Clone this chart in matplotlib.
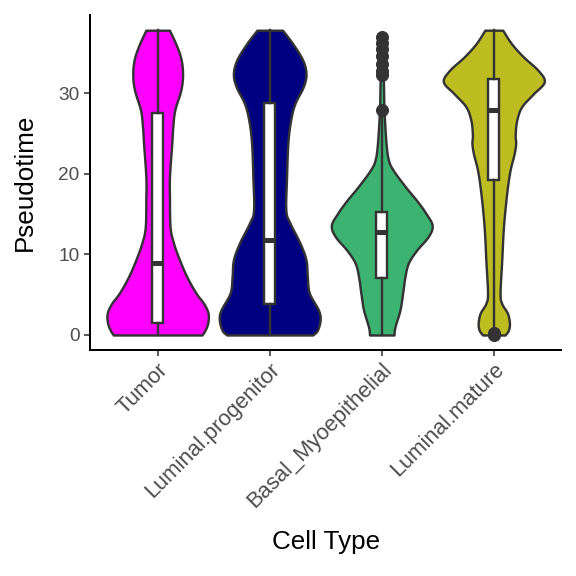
import numpy as np
import matplotlib
matplotlib.use('Agg')
import matplotlib.pyplot as plt

plt.rcParams['font.family'] = ['Liberation Sans', 'DejaVu Sans']

cell_types = ['Tumor', 'Luminal.progenitor', 'Basal_Myoepithelial', 'Luminal.mature']
colors = ['#FF00FF', '#000080', '#3CB371', '#BDBD22']

# violin outlines: pseudotime grid and relative density
tumor_y = [0, 0.6, 1.5, 2.7, 3.9, 5.2, 7.2, 9.3, 11.4, 13.4, 17.1, 19.6, 23.8, 25.8, 27.9, 30.4, 32.4, 34.3, 36.1, 37.8]
tumor_d = [44, 47, 49.7, 50, 45.7, 38, 29, 21.7, 15.7, 12.3, 11.7, 11.7, 14, 15, 17, 23, 24.7, 23, 18, 11.7]

lp_y = [0, 0.6, 1.9, 3.1, 5.2, 7.2, 9.3, 11.4, 13.9, 15.5, 19.6, 23.8, 26.6, 28.7, 30.8, 32.4, 34.1, 36.1, 37.8]
lp_d = [42.7, 47.3, 50, 48.3, 39.3, 37.3, 36, 30, 20, 16, 16.7, 18, 20.7, 25, 33.3, 36, 32.7, 23, 12.7]

basal_y = [0, 1.0, 3.1, 5.2, 7.2, 8.9, 10.5, 12.2, 13.6, 15.1, 16.7, 18.3, 20.4, 21.7, 23.8, 27.9, 31.2, 34.0, 37.0]
basal_d = [12.3, 13.3, 18.3, 21, 23.3, 26.7, 35, 46.7, 50.7, 44.3, 35, 24.3, 11.7, 6.7, 4.3, 2.3, 1.7, 1.0, 0.5]

lm_y = [0, 0.6, 1.5, 2.7, 3.9, 5.2, 9.3, 13.4, 17.6, 20.4, 22.5, 23.8, 24.8, 26.6, 28.3, 29.9, 31.4, 32.8, 34.5, 36.1, 37.8]
lm_d = [11.3, 14.7, 15.7, 13.7, 8, 6.3, 8, 9.7, 13, 16.3, 20.5, 22, 21.5, 23, 28, 39.7, 50.7, 44.7, 29.7, 18, 9]

violin_y = [tumor_y, lp_y, basal_y, lm_y]
violin_d = [tumor_d, lp_d, basal_d, lm_d]

# box plot statistics
q1 = [1.5, 3.9, 7.1, 19.2]
med = [8.9, 11.8, 12.8, 27.9]
q3 = [27.5, 28.8, 15.3, 31.8]
whislo = [0, 0, 0, 0.6]
whishi = [37.8, 37.8, 27.4, 37.8]
fliers = [[], [], [27.9, 32.2, 32.8, 33.6, 34.6, 35.5, 36.2, 37.0], [0.0, 0.1, 0.3]]


def smooth(y, d, n=12):
    p = np.column_stack([y, d]).astype(float)
    p = np.vstack([p[0], p, p[-1]])
    out = []
    t = np.linspace(0, 1, n, endpoint=False)[:, None]
    for i in range(1, len(p) - 2):
        p0, p1, p2, p3 = p[i - 1], p[i], p[i + 1], p[i + 2]
        seg = 0.5 * (2 * p1 + (-p0 + p2) * t + (2 * p0 - 5 * p1 + 4 * p2 - p3) * t ** 2
                     + (-p0 + 3 * p1 - 3 * p2 + p3) * t ** 3)
        out.append(seg)
    out.append(p[-2][None, :])
    out = np.vstack(out)
    return out[:, 0], np.clip(out[:, 1], 0, None)


fig, ax = plt.subplots(figsize=(8, 8), dpi=72)
fig.subplots_adjust(left=0.157, right=0.974, bottom=0.392, top=0.974)

for i, (ys, ds) in enumerate(zip(violin_y, violin_d)):
    sy, sd = smooth(ys, ds)
    half = sd / max(ds) * 0.45
    pos = i + 1
    ax.fill_betweenx(sy, pos - half, pos + half, facecolor=colors[i],
                     edgecolor='#333333', linewidth=2.4, zorder=1)

stats = []
for i in range(4):
    stats.append({'q1': q1[i], 'med': med[i], 'q3': q3[i], 'whislo': whislo[i],
                  'whishi': whishi[i], 'fliers': fliers[i]})

ax.bxp(stats, positions=[1, 2, 3, 4], widths=0.1, patch_artist=True,
       showcaps=False, zorder=2,
       boxprops=dict(facecolor='white', edgecolor='#333333', linewidth=2.4),
       whiskerprops=dict(color='#333333', linewidth=2.4),
       medianprops=dict(color='#333333', linewidth=5, solid_capstyle='butt'),
       flierprops=dict(marker='o', markerfacecolor='#333333', markeredgecolor='#333333',
                       markersize=12))

ax.set_xlim(0.4, 4.6)
ax.set_ylim(-1.89, 39.69)
ax.set_yticks([0, 10, 20, 30])
ax.set_xticks([1, 2, 3, 4])
ax.set_xticklabels(cell_types, rotation=45, ha='right', va='top', rotation_mode='anchor')

for s in ['top', 'right']:
    ax.spines[s].set_visible(False)
for s in ['left', 'bottom']:
    ax.spines[s].set_linewidth(2)
    ax.spines[s].set_color('black')

ax.tick_params(length=6, width=1.6, color='#333333', labelcolor='#4D4D4D', pad=5)
ax.tick_params(axis='y', labelsize=19, pad=5)
ax.tick_params(axis='x', labelsize=22, pad=3)
ax.set_xlabel('Cell Type', fontsize=26, color='black', labelpad=18)
ax.set_ylabel('Pseudotime', fontsize=26, color='black', labelpad=21)

fig.savefig('out.png', dpi=72)
